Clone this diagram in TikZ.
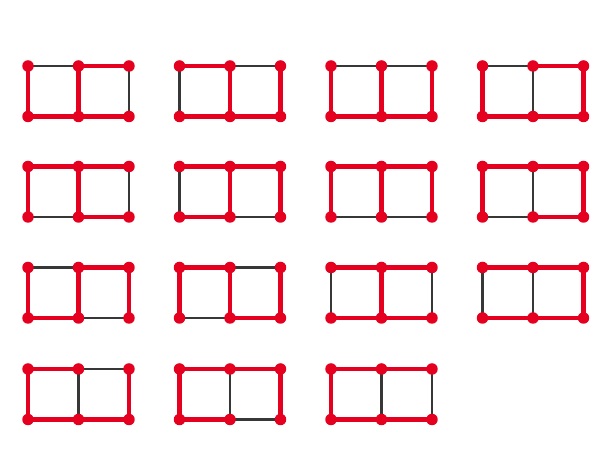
\documentclass[tikz,border=0pt]{standalone}
\usetikzlibrary{backgrounds}
\begin{document}
\definecolor{treered}{RGB}{228,0,30}
\definecolor{restgray}{RGB}{55,55,55}
\begin{tikzpicture}[x=0.02cm, y=-0.02cm,
  dot/.style={circle, fill=treered, inner sep=0pt, minimum size=0.23cm},
  t/.style={draw=treered, line width=2.5pt},
  c/.style={draw=restgray, line width=1.2pt}]
\useasboundingbox (0,0) rectangle (600,452);

% one domino per spanning tree, edges: top l, top r, bottom l, bottom r, left, middle, right
\foreach \n/\x/\y/\ea/\eb/\ec/\ed/\ee/\ef/\eg in {
  1/28/66/c/t/t/t/t/t/c,      2/179.5/66/t/c/t/t/c/t/t,
  3/331/66/c/c/t/t/t/t/t,     4/482.5/66/c/t/t/t/t/c/t,
  5/28/166.5/t/t/c/t/t/t/c,   6/179.5/166.5/t/t/t/c/c/t/t,
  7/331/166.5/t/t/c/c/t/t/t,  8/482.5/166.5/t/t/c/t/t/c/t,
  9/28/267.5/c/t/t/c/t/t/t,   10/179.5/267.5/t/c/c/t/t/t/t,
  11/331/267.5/t/t/t/t/c/t/c, 12/482.5/267.5/t/t/t/t/c/c/t,
  13/28/369/t/c/t/t/t/c/t,    14/179.5/369/t/t/t/c/t/c/t,
  15/331/369/t/t/t/t/t/c/c}
{
  \node[dot] (g\n-a) at (\x,\y) {};
  \node[dot] (g\n-b) at (\x+50.5,\y) {};
  \node[dot] (g\n-c) at (\x+101,\y) {};
  \node[dot] (g\n-d) at (\x,\y+50.5) {};
  \node[dot] (g\n-e) at (\x+50.5,\y+50.5) {};
  \node[dot] (g\n-f) at (\x+101,\y+50.5) {};
  \begin{pgfonlayer}{background}
    \draw[\ea] (g\n-a.center) -- (g\n-b.center);
    \draw[\eb] (g\n-b.center) -- (g\n-c.center);
    \draw[\ec] (g\n-d.center) -- (g\n-e.center);
    \draw[\ed] (g\n-e.center) -- (g\n-f.center);
    \draw[\ee] (g\n-a.center) -- (g\n-d.center);
    \draw[\ef] (g\n-b.center) -- (g\n-e.center);
    \draw[\eg] (g\n-c.center) -- (g\n-f.center);
  \end{pgfonlayer}
}
\end{tikzpicture}
\end{document}
